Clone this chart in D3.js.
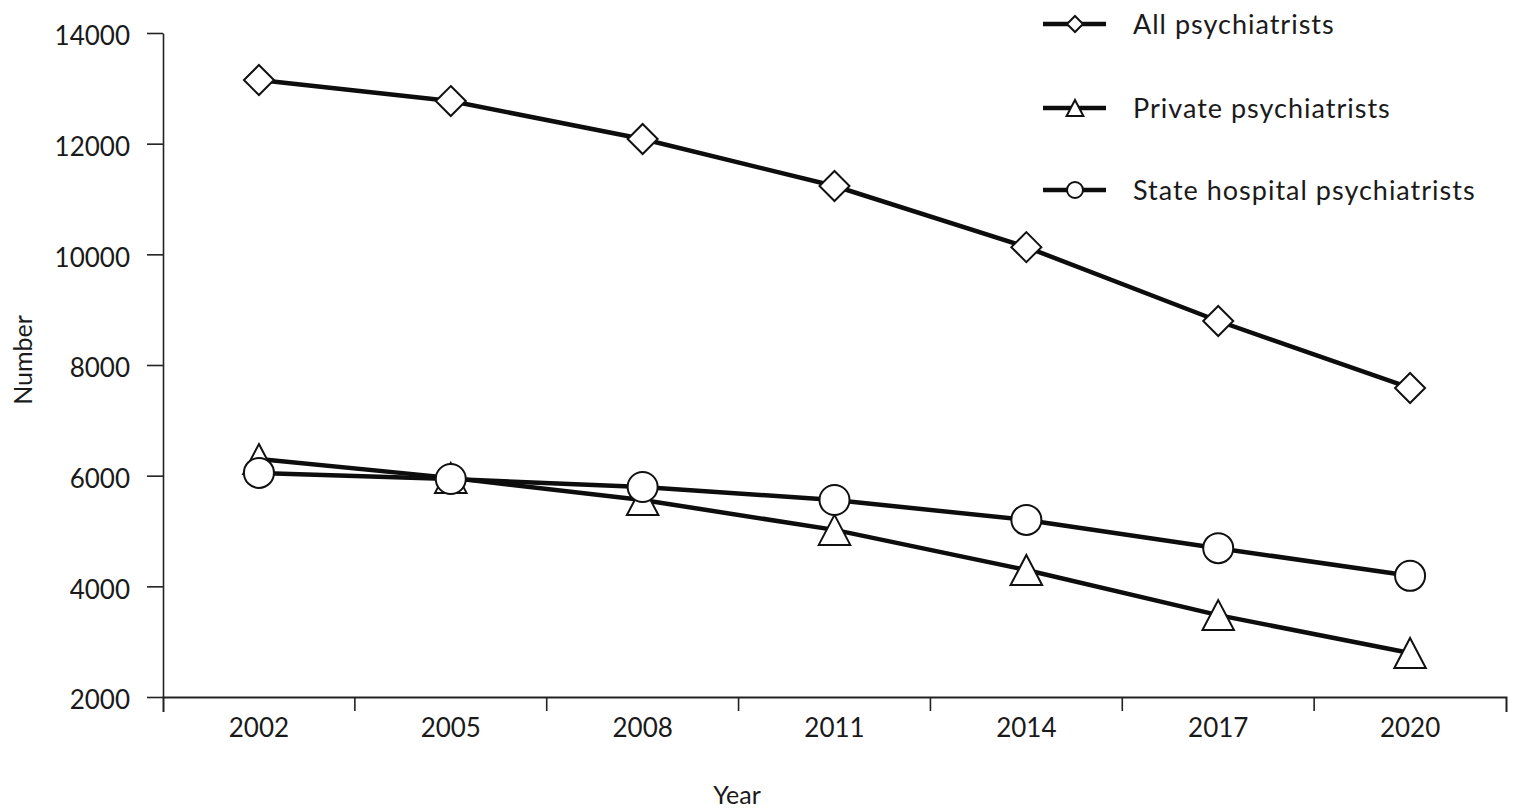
<!DOCTYPE html>
<html>
<head>
<meta charset="utf-8">
<script src="https://cdn.jsdelivr.net/npm/d3@7"></script>
<style>
  body { margin: 0; background: #fff; }
  svg { display: block; }
  text { font-family: Lato, "Open Sans", sans-serif; fill: #1a1a1a; }
</style>
</head>
<body>
<div id="chart"></div>
<script>
// Values
const years = ['2002', '2005', '2008', '2011', '2014', '2017', '2020'];
const allPsychiatrists = [13150, 12770, 12085, 11235, 10130, 8795, 7585];
const privatePsychiatrists = [6300, 5960, 5560, 5020, 4295, 3480, 2795];
const stateHospitalPsychiatrists = [6050, 5940, 5795, 5560, 5200, 4690, 4190];
const yTicks = [2000, 4000, 6000, 8000, 10000, 12000, 14000];

const seriesNames = ['All psychiatrists', 'Private psychiatrists', 'State hospital psychiatrists'];
const seriesShapes = ['diamond', 'triangle', 'circle'];

const width = 1515, height = 809;
const svg = d3.select('#chart').append('svg')
    .attr('width', width)
    .attr('height', height);

// Scales
const x = d3.scaleBand().domain(years).range([163, 1506]);
const y = d3.scaleLinear().domain([2000, 14000]).range([697, 33]);
const cx = d => x(d) + x.bandwidth() / 2;

// Y axis
const yAxis = d3.axisLeft(y)
    .tickValues(yTicks)
    .tickFormat(d3.format('d'))
    .tickSize(16)
    .tickSizeOuter(0)
    .tickPadding(17);
const gY = svg.append('g').attr('transform', 'translate(163,0)').call(yAxis);
gY.select('.domain').attr('stroke', '#222').attr('stroke-width', 1.6);
gY.selectAll('.tick line').attr('stroke', '#222').attr('stroke-width', 1.6);
gY.selectAll('.tick text')
    .attr('font-size', 26)
    .attr('dy', '0.45em')
    .style('font-family', 'Lato, sans-serif');

// X axis: labels centred in bands, ticks on band boundaries
const xAxis = d3.axisBottom(x).tickSizeInner(0).tickSizeOuter(15).tickPadding(22);
const gX = svg.append('g').attr('transform', 'translate(0,697)').call(xAxis);
gX.select('.domain').attr('stroke', '#222').attr('stroke-width', 2);
gX.selectAll('.tick line').remove();
gX.selectAll('.tick text').attr('font-size', 26).style('font-family', 'Lato, sans-serif');
gX.selectAll('.boundary')
    .data(years.slice(1))
    .enter()
    .append('line')
    .attr('class', 'boundary')
    .attr('x1', d => x(d))
    .attr('x2', d => x(d))
    .attr('y1', 0)
    .attr('y2', 14)
    .attr('stroke', '#222')
    .attr('stroke-width', 1.6);

// Axis titles
svg.append('text')
    .attr('x', 737)
    .attr('y', 804)
    .attr('text-anchor', 'middle')
    .attr('font-size', 25)
    .text('Year');
svg.append('text')
    .attr('transform', 'translate(32,360) rotate(-90)')
    .attr('text-anchor', 'middle')
    .attr('font-size', 25)
    .text('Number');

// Marker drawing
function marker(g, shape, r) {
    if (shape === 'circle') {
        g.append('circle').attr('r', r);
    } else if (shape === 'diamond') {
        g.append('path').attr('d', `M0,${-r}L${r},0L0,${r}L${-r},0Z`);
    } else {
        g.append('path').attr('d', `M0,${-r}L${r * 1.05},${r}L${-r * 1.05},${r}Z`);
    }
    g.selectAll('circle, path')
        .attr('fill', '#fff')
        .attr('stroke', '#111')
        .attr('stroke-width', 2);
}

const seriesValues = [allPsychiatrists, privatePsychiatrists, stateHospitalPsychiatrists];

const line = d3.line()
    .x((d, i) => cx(years[i]))
    .y(d => y(d));

// Lines first
seriesValues.forEach(vals => {
    svg.append('path')
        .datum(vals)
        .attr('d', line)
        .attr('fill', 'none')
        .attr('stroke', '#0d0d0d')
        .attr('stroke-width', 4.5);
});

// Then markers
seriesValues.forEach((vals, s) => {
    svg.selectAll('.m' + s)
        .data(vals)
        .enter()
        .append('g')
        .attr('class', 'm' + s)
        .attr('transform', (d, i) => `translate(${cx(years[i])},${y(d)})`)
        .each(function () { marker(d3.select(this), seriesShapes[s], 15); });
});

// Legend
const legendY = [24, 108, 190];
seriesNames.forEach((name, i) => {
    const g = svg.append('g').attr('transform', `translate(1043,${legendY[i]})`);
    g.append('line')
        .attr('x1', 0).attr('x2', 63)
        .attr('stroke', '#0d0d0d')
        .attr('stroke-width', 4.5);
    const m = g.append('g').attr('transform', 'translate(32,0)');
    marker(m, seriesShapes[i], 8);
    g.append('text')
        .attr('x', 90)
        .attr('y', 0)
        .attr('dy', '0.36em')
        .attr('font-size', 27)
        .attr('letter-spacing', 1)
        .text(name);
});
</script>
</body>
</html>
